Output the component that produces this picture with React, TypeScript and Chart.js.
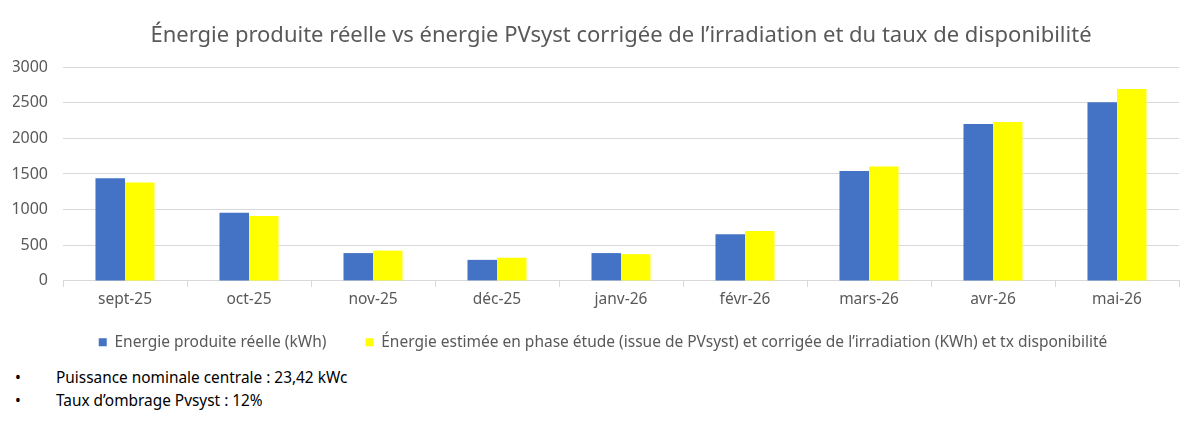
import { useEffect, useRef } from "react";
import { Chart, registerables } from "chart.js";

Chart.register(...registerables);

const months = ["sept-25", "oct-25", "nov-25", "déc-25", "janv-26", "févr-26", "mars-26", "avr-26", "mai-26"];
const reelle = [1440, 955, 390, 295, 390, 655, 1540, 2200, 2505];
const estimee = [1380, 910, 425, 325, 375, 700, 1605, 2230, 2690];
const yTicks = [0, 500, 1000, 1500, 2000, 2500, 3000];
const notes = ["Puissance nominale centrale : 23,42 kWc", "Taux d’ombrage Pvsyst : 12%"];

const FONT = "'Noto Sans', sans-serif";
const GREY = "#595959";
const GRID = "#d9d9d9";

// nudge the legend a little to the right, like the original
const legendShift = {
  id: "legendShift",
  afterLayout(chart: Chart) {
    const lg: any = chart.legend;
    if (!lg) return;
    lg.left += 7;
    lg.right += 7;
  },
};

const App = () => {
  const canvasRef = useRef<HTMLCanvasElement>(null);

  useEffect(() => {
    if (!canvasRef.current) return;
    const ctx = canvasRef.current.getContext("2d");
    if (!ctx) return;

    const chart = new Chart(ctx, {
      type: "bar",
      data: {
        labels: months,
        datasets: [
          {
            label: "Energie produite réelle (kWh)",
            data: reelle,
            backgroundColor: "#4472c4",
          },
          {
            label: "Énergie estimée en phase étude (issue de PVsyst) et corrigée de l’irradiation (KWh) et tx disponibilité",
            data: estimee,
            backgroundColor: "#ffff00",
          },
        ],
      },
      options: {
        animation: false,
        responsive: false,
        maintainAspectRatio: false,
        layout: { padding: { left: 13, right: 21, top: 0, bottom: 0 } },
        datasets: {
          bar: { categoryPercentage: 0.476, barPercentage: 1 },
        },
        plugins: {
          title: {
            display: true,
            text: "Énergie produite réelle vs énergie PVsyst corrigée de l’irradiation et du taux de disponibilité",
            color: GREY,
            font: { family: FONT, size: 22, weight: "normal" },
            padding: { top: 23, bottom: 17.6 },
            fullSize: false,
          },
          legend: {
            position: "bottom",
            labels: {
              color: GREY,
              font: { family: FONT, size: 15.5 },
              boxWidth: 8,
              boxHeight: 8,
              padding: 23,
              generateLabels: (c) => {
                const items = Chart.defaults.plugins.legend.labels.generateLabels(c);
                // wider gap after the first entry, as in the original
                if (items[0]) items[0].text = items[0].text + "    ";
                return items;
              },
            },
          },
          tooltip: { enabled: false },
        },
        scales: {
          x: {
            grid: {
              drawOnChartArea: false,
              drawTicks: true,
              tickLength: 6,
              color: GRID,
            },
            border: { display: true, color: GRID },
            ticks: {
              color: GREY,
              font: { family: FONT, size: 15.5 },
              padding: 3,
            },
          },
          y: {
            min: 0,
            max: 3000,
            afterBuildTicks: (axis) => {
              axis.ticks = yTicks.map((v) => ({ value: v }));
            },
            afterFit: (axis) => {
              axis.width = 50;
            },
            grid: { color: GRID, drawTicks: false },
            border: { display: false },
            ticks: {
              color: GREY,
              font: { family: FONT, size: 16 },
              padding: 15,
              callback: (v) => String(v),
            },
          },
        },
      },
      plugins: [legendShift],
    });

    return () => chart.destroy();
  }, []);

  return (
    <div style={{ position: "relative", width: 1200, height: 424, background: "#fff", fontFamily: FONT }}>
      <style>{"body{margin:0}"}</style>
      <canvas ref={canvasRef} width={1200} height={360} style={{ display: "block" }}></canvas>
      <ul style={{ position: "absolute", left: 0, top: 366, margin: 0, padding: 0, listStyle: "none", fontSize: 15.4, color: "#000" }}>
        {notes.map((t, i) => (
          <li key={i} style={{ position: "relative", height: 23, lineHeight: "23px" }}>
            <span style={{ position: "absolute", left: 15 }}>•</span>
            <span style={{ position: "absolute", left: 56, whiteSpace: "nowrap" }}>{t}</span>
          </li>
        ))}
      </ul>
    </div>
  );
};

export default App;
